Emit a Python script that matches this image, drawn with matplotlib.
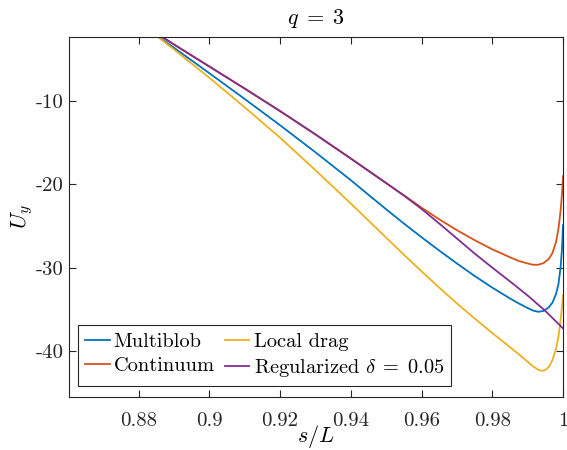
import numpy as np
import matplotlib
matplotlib.use('Agg')
import matplotlib.pyplot as plt

plt.rcParams['font.family'] = ['cmr10', 'DejaVu Serif']
plt.rcParams['mathtext.fontset'] = 'cm'
plt.rcParams['axes.formatter.use_mathtext'] = True
plt.rcParams['axes.unicode_minus'] = False

# values
s_multiblob = [0.88, 0.89, 0.90, 0.91, 0.92, 0.93, 0.94, 0.95, 0.955, 0.96, 0.965, 0.97,
               0.975, 0.98, 0.985, 0.9875, 0.99, 0.9915, 0.993, 0.9945, 0.996, 0.997,
               0.998, 0.9987, 0.9993, 0.9997, 1.0]
u_multiblob = [-0.6, -3.6, -6.65, -9.75, -12.9, -16.15, -19.5, -23.0, -24.7, -26.35, -27.95, -29.5,
               -31.0, -32.4, -33.7, -34.3, -34.85, -35.15, -35.3, -35.2, -34.75, -34.2,
               -33.2, -32.0, -30.0, -27.8, -24.9]

s_continuum = [0.88, 0.89, 0.90, 0.91, 0.92, 0.93, 0.94, 0.95, 0.955, 0.96, 0.965, 0.97,
               0.975, 0.98, 0.985, 0.9875, 0.99, 0.9915, 0.993, 0.9945, 0.996, 0.997,
               0.998, 0.9987, 0.9993, 0.9997, 1.0]
u_continuum = [-0.5, -3.2, -5.85, -8.5, -11.2, -14.0, -16.9, -19.85, -21.3, -22.8, -24.2, -25.5,
               -26.7, -27.8, -28.75, -29.2, -29.5, -29.65, -29.65, -29.45, -28.95, -28.25,
               -26.95, -25.35, -23.2, -21.2, -19.0]

s_local = [0.88, 0.89, 0.90, 0.91, 0.92, 0.93, 0.94, 0.95, 0.955, 0.96, 0.965, 0.97,
           0.975, 0.98, 0.985, 0.9875, 0.99, 0.9915, 0.993, 0.994, 0.995, 0.996, 0.997,
           0.998, 0.9987, 0.9993, 0.9997, 1.0]
u_local = [-0.5, -3.8, -7.2, -10.75, -14.4, -18.3, -22.3, -26.4, -28.45, -30.45, -32.4, -34.3,
           -36.1, -37.85, -39.55, -40.4, -41.3, -41.85, -42.25, -42.4, -42.3, -41.9, -41.1,
           -39.8, -38.3, -36.3, -34.7, -33.3]

s_reg = [0.88, 0.89, 0.90, 0.91, 0.92, 0.93, 0.94, 0.95, 0.955, 0.96, 0.965, 0.97,
         0.975, 0.98, 0.985, 0.99, 0.995, 1.0]
u_reg = [-0.5, -3.2, -5.85, -8.5, -11.2, -14.0, -16.9, -19.85, -21.35, -22.95, -24.7, -26.5,
         -28.3, -30.0, -31.65, -33.35, -35.2, -37.3]

xticks = [0.88, 0.9, 0.92, 0.94, 0.96, 0.98, 1.0]
xticklabels = ['0.88', '0.9', '0.92', '0.94', '0.96', '0.98', '1']
yticks = [-40, -30, -20, -10]
yticklabels = ['-40', '-30', '-20', '-10']

fig = plt.figure(figsize=(5.67, 4.5), dpi=100)
ax = fig.add_axes([0.1217, 0.1184, 0.8713, 0.7994])

lw = 1.3
ax.plot(s_multiblob, u_multiblob, color='#0072BD', lw=lw, label='Multiblob')
ax.plot(s_continuum, u_continuum, color='#D95319', lw=lw, label='Continuum')
ax.plot(s_local, u_local, color='#EDB120', lw=lw, label='Local drag')
ax.plot(s_reg, u_reg, color='#7E2F8E', lw=lw, label=r'Regularized $\delta\;=\;0.05$')

ax.set_xlim(0.8603, 1.0)
ax.set_ylim(-45.5, -2.3)
ax.set_xticks(xticks)
ax.set_xticklabels(xticklabels)
ax.set_yticks(yticks)
ax.set_yticklabels(yticklabels)
ax.tick_params(direction='in', top=True, right=True, length=5, width=0.8,
               labelsize=15, colors='#262626')
ax.tick_params(axis='x', pad=11)
ax.tick_params(axis='y', pad=4)
for sp in ax.spines.values():
    sp.set_linewidth(0.8)
    sp.set_color('#262626')

ax.set_title(r'$q\;=\;3$', fontsize=16, pad=9)
ax.set_xlabel(r'$s/L$', fontsize=16, labelpad=-5)
ax.set_ylabel(r'$U_y$', fontsize=16, labelpad=0)

leg = ax.legend(ncol=2, loc='lower left', bbox_to_anchor=(0.018, 0.03), fontsize=14.7,
                frameon=True, fancybox=False, edgecolor='#262626', framealpha=1,
                handlelength=1.2, handletextpad=0.2, columnspacing=0.5,
                labelspacing=0.3, borderpad=0.35, borderaxespad=0.0)
leg.get_frame().set_linewidth(0.8)

fig.savefig('out.png', dpi=100)
